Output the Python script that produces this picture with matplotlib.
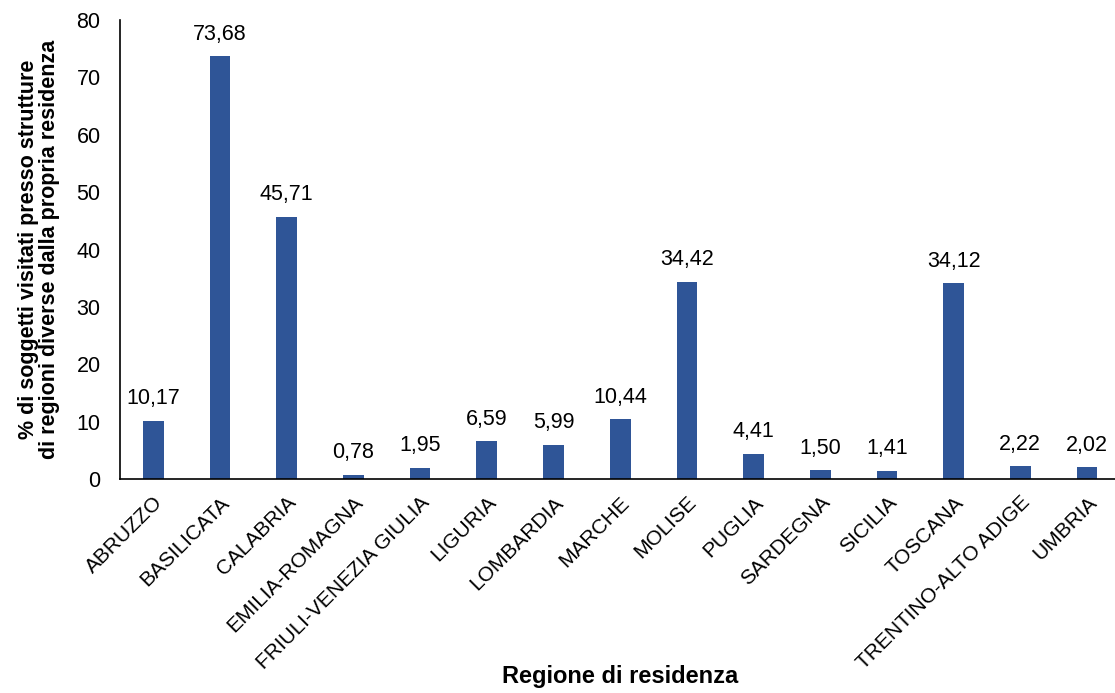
import matplotlib.pyplot as plt

plt.rcParams['font.family'] = ['Liberation Sans', 'DejaVu Sans']

regioni = ["ABRUZZO", "BASILICATA", "CALABRIA", "EMILIA-ROMAGNA", "FRIULI-VENEZIA GIULIA",
           "LIGURIA", "LOMBARDIA", "MARCHE", "MOLISE", "PUGLIA", "SARDEGNA", "SICILIA",
           "TOSCANA", "TRENTINO-ALTO ADIGE", "UMBRIA"]
percentuali = [10.17, 73.68, 45.71, 0.78, 1.95, 6.59, 5.99, 10.44, 34.42, 4.41,
               1.50, 1.41, 34.12, 2.22, 2.02]
y_ticks = [0, 10, 20, 30, 40, 50, 60, 70, 80]

fig = plt.figure(figsize=(11.15, 6.93), dpi=100)
ax = fig.add_axes([120 / 1115, 214 / 693, 1 - 120 / 1115, (479 - 20) / 693])

x = list(range(len(regioni)))
ax.bar(x, percentuali, width=0.31, color="#2F5597")

# etichette dei valori con la virgola
for xi, v in zip(x, percentuali):
    ax.text(xi, v + 2.0, f"{v:.2f}".replace(".", ","), ha="center", va="bottom", fontsize=15.5)

ax.set_xlim(-0.5, 14.42)
ax.set_ylim(0, 80)
ax.set_yticks(y_ticks)
ax.set_yticklabels([str(t) for t in y_ticks], fontsize=15.5)
ax.set_xticks(x)
ax.set_xticklabels(regioni, rotation=45, ha="right", rotation_mode="anchor", fontsize=15)
ax.tick_params(axis="y", length=0, pad=14)
ax.tick_params(axis="x", length=0, pad=10)

for s in ["top", "right"]:
    ax.spines[s].set_visible(False)
for s in ["left", "bottom"]:
    ax.spines[s].set_linewidth(1.2)
    ax.spines[s].set_color("black")

ax.set_ylabel("% di soggetti visitati presso strutture\ndi regioni diverse dalla propria residenza",
              fontsize=15.5, fontweight="bold", labelpad=12, linespacing=1.0)
fig.text(620 / 1115, 1 - 677 / 693, "Regione di residenza", ha="center", va="center",
         fontsize=17, fontweight="bold")

fig.savefig("out.png", dpi=100)
